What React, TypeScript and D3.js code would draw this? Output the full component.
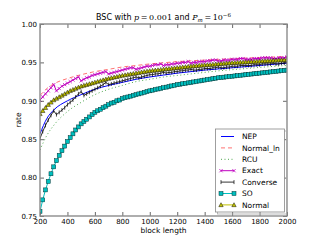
import React, { useEffect, useRef } from "react";
import * as d3 from "d3";

// block lengths for the marked series (every 20)
const blockLength = [
  200, 220, 240, 260, 280, 300, 320, 340, 360, 380,
  400, 420, 440, 460, 480, 500, 520, 540, 560, 580,
  600, 620, 640, 660, 680, 700, 720, 740, 760, 780,
  800, 820, 840, 860, 880, 900, 920, 940, 960, 980,
  1000, 1020, 1040, 1060, 1080, 1100, 1120, 1140, 1160, 1180,
  1200, 1220, 1240, 1260, 1280, 1300, 1320, 1340, 1360, 1380,
  1400, 1420, 1440, 1460, 1480, 1500, 1520, 1540, 1560, 1580,
  1600, 1620, 1640, 1660, 1680, 1700, 1720, 1740, 1760, 1780,
  1800, 1820, 1840, 1860, 1880, 1900, 1920, 1940, 1960, 1980,
  2000,
];
// coarser grid for the plain lines
const coarseLength = [200, 250, 300, 400, 500, 600, 700, 800, 900, 1000, 1100, 1200, 1300, 1400, 1500, 1600, 1700, 1800, 1900, 2000];

const nepRate = [0.857, 0.877, 0.888, 0.9, 0.908, 0.915, 0.92, 0.924, 0.928, 0.931, 0.9335, 0.936, 0.938, 0.94, 0.9415, 0.943, 0.9445, 0.946, 0.9475, 0.949];
const normalLnRate = [0.907, 0.916, 0.922, 0.929, 0.934, 0.938, 0.941, 0.944, 0.946, 0.948, 0.9495, 0.951, 0.952, 0.953, 0.954, 0.9548, 0.9556, 0.9563, 0.957, 0.9577];
const rcuRate = [0.836, 0.855, 0.868, 0.886, 0.898, 0.908, 0.915, 0.92, 0.925, 0.928, 0.931, 0.933, 0.935, 0.937, 0.939, 0.9405, 0.942, 0.9435, 0.9448, 0.946];

const exactRate = [
  0.901, 0.905, 0.909, 0.913, 0.917, 0.921, 0.913, 0.916, 0.919, 0.921,
  0.923, 0.925, 0.927, 0.929, 0.931, 0.926, 0.928, 0.93, 0.931, 0.933,
  0.934, 0.935, 0.936, 0.937, 0.938, 0.935, 0.936, 0.937, 0.938, 0.939,
  0.94, 0.941, 0.942, 0.943, 0.943, 0.941, 0.942, 0.943, 0.944, 0.945,
  0.945, 0.946, 0.947, 0.947, 0.948, 0.946, 0.947, 0.947, 0.948, 0.948,
  0.949, 0.949, 0.95, 0.95, 0.951, 0.949, 0.95, 0.95, 0.951, 0.951,
  0.951, 0.952, 0.952, 0.953, 0.953, 0.952, 0.952, 0.953, 0.953, 0.953,
  0.954, 0.954, 0.954, 0.955, 0.955, 0.954, 0.954, 0.954, 0.955, 0.955,
  0.955, 0.956, 0.956, 0.956, 0.956, 0.955, 0.955, 0.956, 0.956, 0.956,
  0.957,
];
const converseRate = [
  0.851, 0.86, 0.868, 0.875, 0.881, 0.887, 0.882, 0.885, 0.888, 0.891,
  0.895, 0.898, 0.901, 0.905, 0.909, 0.912, 0.907, 0.909, 0.911, 0.913,
  0.915, 0.917, 0.919, 0.921, 0.924, 0.921, 0.922, 0.923, 0.924, 0.925,
  0.926, 0.927, 0.928, 0.929, 0.93, 0.931, 0.93, 0.931, 0.932, 0.933,
  0.934, 0.934, 0.935, 0.935, 0.936, 0.937, 0.936, 0.937, 0.937, 0.938,
  0.938, 0.939, 0.939, 0.94, 0.94, 0.941, 0.94, 0.94, 0.941, 0.941,
  0.942, 0.942, 0.942, 0.943, 0.943, 0.944, 0.943, 0.943, 0.944, 0.944,
  0.945, 0.945, 0.945, 0.946, 0.946, 0.946, 0.946, 0.946, 0.947, 0.947,
  0.947, 0.948, 0.948, 0.948, 0.948, 0.949, 0.948, 0.948, 0.949, 0.949,
  0.95,
];
const soRate = [
  0.756, 0.771, 0.784, 0.795, 0.805, 0.814, 0.822, 0.829, 0.835, 0.841,
  0.847, 0.852, 0.857, 0.862, 0.866, 0.87, 0.873, 0.876, 0.879, 0.882,
  0.885, 0.887, 0.889, 0.891, 0.893, 0.895, 0.897, 0.898, 0.9, 0.901,
  0.903, 0.904, 0.905, 0.906, 0.907, 0.908, 0.909, 0.91, 0.911, 0.912,
  0.913, 0.9138, 0.9146, 0.9154, 0.9162, 0.917, 0.9178, 0.9186, 0.9194, 0.9202,
  0.921, 0.9216, 0.9222, 0.9228, 0.9234, 0.924, 0.9246, 0.9252, 0.9258, 0.9264,
  0.927, 0.9276, 0.9282, 0.9288, 0.9294, 0.93, 0.9304, 0.9308, 0.9312, 0.9316,
  0.932, 0.9324, 0.9328, 0.9332, 0.9336, 0.934, 0.9344, 0.9348, 0.9352, 0.9356,
  0.936, 0.9364, 0.9368, 0.9372, 0.9376, 0.938, 0.9384, 0.9388, 0.9392, 0.9396,
  0.94,
];
const normalRate = [
  0.883, 0.887, 0.891, 0.895, 0.898, 0.901, 0.903, 0.905, 0.907, 0.909,
  0.911, 0.913, 0.9145, 0.916, 0.9175, 0.919, 0.92, 0.921, 0.922, 0.923,
  0.924, 0.925, 0.926, 0.927, 0.928, 0.929, 0.9298, 0.9306, 0.9314, 0.9322,
  0.933, 0.9336, 0.9342, 0.9348, 0.9354, 0.936, 0.9366, 0.9372, 0.9378, 0.9384,
  0.939, 0.9394, 0.9398, 0.9402, 0.9406, 0.941, 0.9414, 0.9418, 0.9422, 0.9426,
  0.943, 0.9434, 0.9438, 0.9442, 0.9446, 0.945, 0.9453, 0.9456, 0.9459, 0.9462,
  0.9465, 0.9468, 0.9471, 0.9474, 0.9477, 0.948, 0.9483, 0.9486, 0.9489, 0.9492,
  0.9495, 0.9497, 0.9499, 0.9501, 0.9503, 0.9505, 0.9507, 0.9509, 0.9511, 0.9513,
  0.9515, 0.9517, 0.9519, 0.9521, 0.9523, 0.9525, 0.9527, 0.9529, 0.9531, 0.9533,
  0.9535,
];

const xTicks = [200, 400, 600, 800, 1000, 1200, 1400, 1600, 1800, 2000];
const yTicks = [0.75, 0.8, 0.85, 0.9, 0.95, 1.0];

type Marker = "none" | "x" | "vline" | "square" | "triangle";
interface ISeries {
  name: string;
  xs: number[];
  ys: number[];
  color: string;
  dash?: string;
  opacity?: number;
  marker: Marker;
}

const series: ISeries[] = [
  { name: "NEP", xs: coarseLength, ys: nepRate, color: "#0000ff", marker: "none" },
  { name: "Normal_ln", xs: coarseLength, ys: normalLnRate, color: "#ff0000", dash: "4,3", opacity: 0.55, marker: "none" },
  { name: "RCU", xs: coarseLength, ys: rcuRate, color: "#008000", dash: "1,2.5", opacity: 0.7, marker: "none" },
  { name: "Exact", xs: blockLength, ys: exactRate, color: "#bf00bf", marker: "x" },
  { name: "Converse", xs: blockLength, ys: converseRate, color: "#000000", marker: "vline" },
  { name: "SO", xs: blockLength, ys: soRate, color: "#00bfbf", marker: "square" },
  { name: "Normal", xs: blockLength, ys: normalRate, color: "#bfbf00", marker: "triangle" },
];

const FONT = "'DejaVu Sans', sans-serif";
const SERIF = "'DejaVu Serif', serif";

function drawMarker(g: any, kind: Marker, cx: number, cy: number, color: string) {
  if (kind === "x") {
    const s = 1.6;
    g.append("path")
      .attr("d", `M${cx - s},${cy - s}L${cx + s},${cy + s}M${cx - s},${cy + s}L${cx + s},${cy - s}`)
      .attr("stroke", color).attr("stroke-width", 0.8).attr("fill", "none");
  } else if (kind === "vline") {
    g.append("path")
      .attr("d", `M${cx},${cy - 2}L${cx},${cy + 2}`)
      .attr("stroke", "#000").attr("stroke-width", 0.7);
  } else if (kind === "square") {
    g.append("rect")
      .attr("x", cx - 2).attr("y", cy - 2).attr("width", 4).attr("height", 4)
      .attr("fill", color).attr("stroke", "#003333").attr("stroke-width", 0.5);
  } else if (kind === "triangle") {
    const s = 2.2;
    g.append("path")
      .attr("d", `M${cx},${cy - s}L${cx + s},${cy + s * 0.8}L${cx - s},${cy + s * 0.8}Z`)
      .attr("fill", color).attr("stroke", "#000").attr("stroke-width", 0.45);
  }
}

export default function App() {
  const ref = useRef<SVGSVGElement>(null);

  useEffect(() => {
    const svg = d3.select(ref.current);
    svg.selectAll("*").remove();

    const left = 40, right = 287, top = 24, bottom = 216;
    const xScale = d3.scaleLinear().domain([200, 2000]).range([left, right]);
    const yScale = d3.scaleLinear().domain([0.75, 1.0]).range([bottom, top]);

    svg.append("rect").attr("width", 320).attr("height", 240).attr("fill", "#fff");

    svg.append("defs").append("clipPath").attr("id", "plotClip")
      .append("rect").attr("x", left).attr("y", top).attr("width", right - left).attr("height", bottom - top);

    // series
    const plot = svg.append("g").attr("clip-path", "url(#plotClip)");
    series.forEach(s => {
      const pts: [number, number][] = s.xs.map((v, i) => [xScale(v), yScale(s.ys[i])]);
      const line = d3.line().curve(s.marker === "none" ? d3.curveMonotoneX : d3.curveLinear);
      plot.append("path")
        .attr("d", line(pts) as string)
        .attr("fill", "none")
        .attr("stroke", s.color)
        .attr("stroke-width", s.marker === "vline" ? 0.8 : 1)
        .attr("stroke-dasharray", s.dash || null)
        .attr("opacity", s.opacity || 1);
      if (s.marker !== "none") {
        const mg = plot.append("g");
        pts.forEach(p => drawMarker(mg, s.marker, p[0], p[1], s.color));
      }
    });

    // axes, ticks pointing inward
    const fmtY = d3.format(".2f");
    const fmtX = d3.format("d");
    const axes = [
      svg.append("g").attr("transform", `translate(0,${bottom})`)
        .call(d3.axisBottom(xScale).tickValues(xTicks).tickSize(-4).tickPadding(3).tickFormat(d => fmtX(d as number)) as any),
      svg.append("g").attr("transform", `translate(0,${top})`)
        .call(d3.axisTop(xScale).tickValues(xTicks).tickSize(-4).tickFormat(() => "") as any),
      svg.append("g").attr("transform", `translate(${left},0)`)
        .call(d3.axisLeft(yScale).tickValues(yTicks).tickSize(-4).tickPadding(3).tickFormat(d => fmtY(d as number)) as any),
      svg.append("g").attr("transform", `translate(${right},0)`)
        .call(d3.axisRight(yScale).tickValues(yTicks).tickSize(-4).tickFormat(() => "") as any),
    ];
    axes.forEach(a => {
      a.select(".domain").remove();
      a.selectAll("line").attr("stroke", "#000").attr("stroke-width", 0.6);
      a.selectAll("text").attr("font-family", FONT).attr("font-size", 7).attr("fill", "#000");
    });

    svg.append("rect")
      .attr("x", left).attr("y", top).attr("width", right - left).attr("height", bottom - top)
      .attr("fill", "none").attr("stroke", "#8c8c8c").attr("stroke-width", 1.4);

    // labels
    svg.append("text").attr("x", (left + right) / 2).attr("y", 233)
      .attr("text-anchor", "middle").attr("font-family", FONT).attr("font-size", 7.5)
      .text("block length");
    svg.append("text").attr("transform", `translate(21,120) rotate(-90)`)
      .attr("text-anchor", "middle").attr("font-family", FONT).attr("font-size", 7.5)
      .text("rate");

    // title with math parts
    const title = svg.append("text").attr("x", (left + right) / 2).attr("y", 20)
      .attr("text-anchor", "middle").attr("font-family", FONT).attr("font-size", 8);
    title.append("tspan").text("BSC with ");
    title.append("tspan").attr("font-family", SERIF).attr("font-style", "italic").text("p");
    title.append("tspan").attr("font-family", SERIF).text("\u2009=\u20090.001");
    title.append("tspan").text(" and ");
    title.append("tspan").attr("font-family", SERIF).attr("font-style", "italic").text("P");
    title.append("tspan").attr("font-family", SERIF).attr("font-style", "italic").attr("font-size", 5.5).attr("dy", 1.8).text("m");
    title.append("tspan").attr("font-family", SERIF).attr("dy", -1.8).text("\u2009=\u200910");
    title.append("tspan").attr("font-family", SERIF).attr("font-size", 5.5).attr("dy", -3.5).text("\u22126");

    // legend
    const lx = 215.5, ly = 129, lw = 69, lh = 83;
    svg.append("rect").attr("x", lx + 2).attr("y", ly + 2).attr("width", lw).attr("height", lh)
      .attr("fill", "none").attr("stroke", "#aaa").attr("stroke-width", 0.8);
    svg.append("rect").attr("x", lx).attr("y", ly).attr("width", lw).attr("height", lh)
      .attr("fill", "#fff").attr("stroke", "#888").attr("stroke-width", 0.8);
    const lg = svg.append("g");
    series.forEach((s, i) => {
      const yy = 136.5 + i * 11.4;
      lg.append("path").attr("d", `M221,${yy}L234,${yy}`)
        .attr("stroke", s.color).attr("stroke-width", s.marker === "vline" ? 0.8 : 1)
        .attr("stroke-dasharray", s.dash || null).attr("opacity", s.opacity || 1);
      if (s.marker !== "none") {
        drawMarker(lg, s.marker, 221, yy, s.color);
        drawMarker(lg, s.marker, 234, yy, s.color);
      }
      lg.append("text").attr("x", 242).attr("y", yy + 2.7)
        .attr("font-family", FONT).attr("font-size", 7.5).text(s.name);
    });
  }, []);

  return (
    <svg ref={ref} width={320} height={240}
      style={{ position: "absolute", left: 0, top: 0, background: "#fff" }} />
  );
}
